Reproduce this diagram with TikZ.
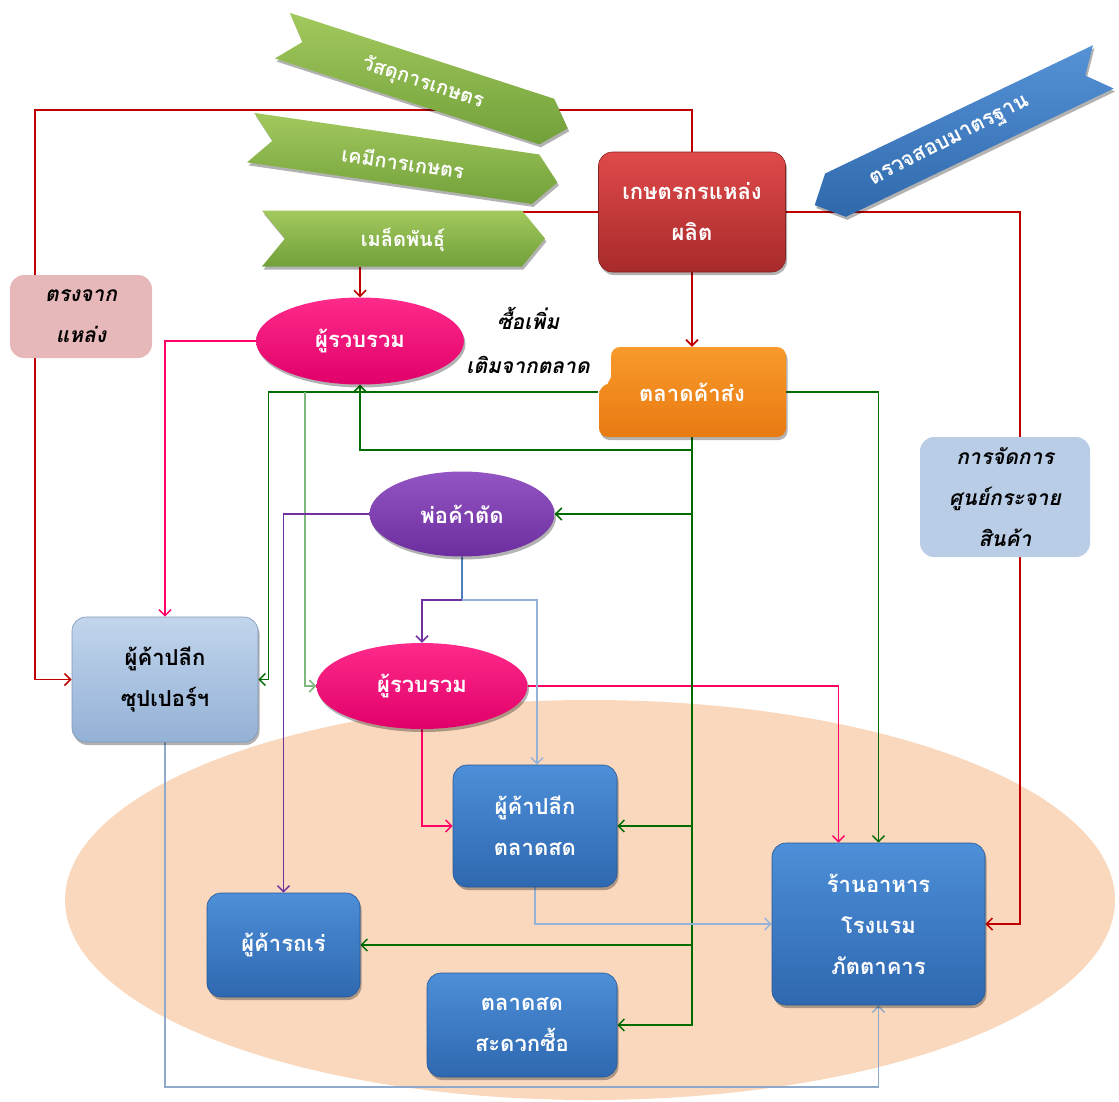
\documentclass[tikz,border=0pt]{standalone}
\usepackage{fontspec}
\newfontfamily\thaifont[Script=Thai]{Loma}
\usetikzlibrary{arrows.meta,shadows,shapes.geometric,calc}
\pgfdeclarelayer{backdrop}
\pgfdeclarelayer{links}
\pgfsetlayers{backdrop,links,main}

% connector colours
\definecolor{linkred}{HTML}{C00000}
\definecolor{linkpink}{HTML}{FF0066}
\definecolor{linkgreen}{HTML}{006B00}
\definecolor{linklightgreen}{HTML}{7DB87D}
\definecolor{linkpurple}{HTML}{7030A0}
\definecolor{linkblue}{HTML}{4F81BD}
\definecolor{linkpale}{HTML}{95B3D7}
\definecolor{linksteel}{HTML}{8EA9C9}
% fills
\definecolor{peach}{HTML}{F9D8BD}
\definecolor{redT}{HTML}{E04A4A}
\definecolor{redB}{HTML}{A82A2A}
\definecolor{orangeT}{HTML}{F89A2C}
\definecolor{orangeB}{HTML}{E87A12}
\definecolor{pinkT}{HTML}{FF2A8A}
\definecolor{pinkB}{HTML}{E0006A}
\definecolor{purpleT}{HTML}{9455C4}
\definecolor{purpleB}{HTML}{6C2E9E}
\definecolor{blueT}{HTML}{4D8FD8}
\definecolor{blueB}{HTML}{2E68B0}
\definecolor{paleT}{HTML}{C2D5EC}
\definecolor{paleB}{HTML}{93B1D6}
\definecolor{greenT}{HTML}{A2C95E}
\definecolor{greenB}{HTML}{72A03A}
\definecolor{ribbonT}{HTML}{5592D6}
\definecolor{ribbonB}{HTML}{2F69AC}
\definecolor{rosebox}{HTML}{E6B8B9}
\definecolor{skybox}{HTML}{B9CDE6}

\tikzset{
  thaitext/.style={font=\thaifont\bfseries\fontsize{22}{41}\selectfont, align=center, inner sep=0pt},
  notetext/.style={font=\thaifont\bfseries\itshape\fontsize{21}{41}\selectfont, align=center, inner sep=0pt},
  softshadow/.style={drop shadow={shadow xshift=1.5pt, shadow yshift=-3pt, fill=black, opacity=.3}},
  card/.style={thaitext, rectangle, rounded corners=14pt, softshadow},
  bluecard/.style={card, text=white, top color=blueT, bottom color=blueB, draw=blueB!85!black, line width=.6pt},
  oval/.style={thaitext, ellipse, softshadow, text=white},
  notecard/.style={notetext, rectangle, rounded corners=14pt, text=black},
  ribtext/.style={font=\thaifont\bfseries\fontsize{20}{22}\selectfont, text=white, inner sep=0pt},
  wire/.style={line width=1.5pt, -{Straight Barb[length=6pt,width=12pt]}},
  plainwire/.style={line width=1.5pt},
}

\begin{document}
\begin{tikzpicture}[x=1pt,y=-1pt]
\useasboundingbox (0,0) rectangle (1119,1101);

% large peach area behind the retail outlets
\begin{pgfonlayer}{backdrop}
  \fill[peach] (590,900) ellipse [x radius=525, y radius=200];
\end{pgfonlayer}

% ---------- input ribbons ----------
\begin{scope}[shift={(425,82)}, rotate=-18]
  \path[top color=greenT, bottom color=greenB, softshadow]
    (-150,-24) -- (128,-24) -- (150,0) -- (128,24) -- (-150,24) -- (-129,0) -- cycle;
\end{scope}
\node[ribtext, rotate=-18] (matl) at (423,83) {วัสดุการเกษตร};

\begin{scope}[shift={(404,160)}, rotate=-8.3]
  \path[top color=greenT, bottom color=greenB, softshadow]
    (-155,-25) -- (133,-25) -- (155,0) -- (133,25) -- (-155,25) -- (-133,0) -- cycle;
\end{scope}
\node[ribtext, rotate=-8.3] (chem) at (403,162) {เคมีการเกษตร};

\begin{scope}[shift={(403.5,238.5)}]
  \path[top color=greenT, bottom color=greenB, softshadow]
    (-141.5,-28) -- (118.5,-28) -- (141.5,0) -- (118.5,28) -- (-141.5,28) -- (-118.5,0) -- cycle;
\end{scope}
\node[ribtext] (seed) at (403,240) {เมล็ดพันธุ์};

\begin{scope}[shift={(959,136)}, rotate=25.6]
  \path[top color=ribbonT, bottom color=ribbonB, softshadow]
    (-160,0) -- (-137,-24) -- (160,-24) -- (140,0) -- (160,24) -- (-137,24) -- cycle;
\end{scope}
\node[ribtext, font=\thaifont\bfseries\fontsize{21}{22}\selectfont, rotate=27] (check) at (950,142) {ตรวจสอบมาตรฐาน};

% ---------- main nodes ----------
\node[card, text=white, top color=redT, bottom color=redB, draw=redB!80!black, line width=.6pt,
      minimum width=187pt, minimum height=120pt] (farmer) at (692,212) {เกษตรกรแหล่ง\\ผลิต};

% wholesale market body with its notched upper-left corner
\path[top color=orangeT, bottom color=orangeB, softshadow, rounded corners=9pt]
  (611,347) -- (786,347) -- (786,437) -- (599,437) -- (599,386)
  .. controls (607,384) and (611,378) .. (611,368) -- cycle;
\node[thaitext, text=white, minimum width=187pt, minimum height=90pt] (wholesale) at (692,392) {ตลาดค้าส่ง};

\node[notecard, fill=rosebox, minimum width=142pt, minimum height=83pt] (direct) at (81,316.5) {ตรงจาก\\แหล่ง};
\node[notecard, fill=skybox, minimum width=170pt, minimum height=120pt] (dist) at (1005,497) {การจัดการ\\ศูนย์กระจาย\\สินค้า};

\node[oval, top color=pinkT, bottom color=pinkB, minimum width=208pt, minimum height=87pt] (coll1) at (360,341) {ผู้รวบรวม};
\node[notetext, text=black, font=\thaifont\bfseries\itshape\fontsize{21}{44}\selectfont] (buy) at (528,340) {ซื้อเพิ่ม\\เติมจากตลาด};
\node[oval, top color=purpleT, bottom color=purpleB, minimum width=185pt, minimum height=85pt] (cutter) at (462,514) {พ่อค้าตัด};
\node[oval, top color=pinkT, bottom color=pinkB, minimum width=211pt, minimum height=86pt] (coll2) at (422,686) {ผู้รวบรวม};

\node[card, text=black, top color=paleT, bottom color=paleB, draw=paleB!85!black, line width=.6pt,
      minimum width=186pt, minimum height=125pt] (super) at (165,679.5) {ผู้ค้าปลีก\\ซุปเปอร์ฯ};

\node[bluecard, minimum width=164pt, minimum height=122pt] (fresh) at (535,826) {ผู้ค้าปลีก\\ตลาดสด};
\node[bluecard, minimum width=213pt, minimum height=162pt] (rest) at (878.5,924) {ร้านอาหาร\\โรงแรม\\ภัตตาคาร};
\node[bluecard, minimum width=153pt, minimum height=104pt] (cart) at (283.5,945) {ผู้ค้ารถเร่};
\node[bluecard, minimum width=190pt, minimum height=104pt] (conv) at (522,1025) {ตลาดสด\\สะดวกซื้อ};

% ---------- connectors ----------
\coordinate (seedlead) at (515,212);
\coordinate (seedbot) at (360,267);
\begin{pgfonlayer}{links}
  % red: from the producing farmers
  \draw[wire, linkred, line width=1.7pt] (farmer.north) |- (35,110) |- (super.west);
  \draw[wire, linkred, line width=1.7pt] (farmer.east) -| ($(rest.east)+(35,0)$) -- (rest.east);
  \draw[plainwire, linkred, line width=1.7pt] (seedlead) -- (farmer.west);
  \draw[wire, linkred, line width=1.7pt] (farmer.south) -- (wholesale.north);
  \draw[wire, linkred] (seedbot) -- (coll1.north);

  % pink: from the collectors
  \draw[wire, linkpink] (coll1.west) -| (super.north);
  \draw[wire, linkpink] (coll2.east) -| ($(rest.north)+(-40,0)$);
  \draw[wire, linkpink] (coll2.south) |- (fresh.west);

  % green: from the wholesale market
  \draw[wire, linkgreen] (wholesale.west) -| ($(super.east)+(10,0)$) -- (super.east);
  \draw[wire, linklightgreen] (wholesale.west -| 305,0) |- (coll2.west);
  \draw[wire, linkgreen] (wholesale.south) |- (conv.east);
  \draw[wire, linkgreen] (wholesale.south |- 0,450) -| (coll1.south);
  \draw[wire, linkgreen] (cutter.east -| wholesale.south) -- (cutter.east);
  \draw[wire, linkgreen] (fresh.east -| wholesale.south) -- (fresh.east);
  \draw[wire, linkgreen] (cart.east -| wholesale.south) -- (cart.east);
  \draw[wire, linkgreen] (wholesale.east) -| (rest.north);

  % purple and blue: from the middlemen
  \draw[wire, linkpurple] (cutter.west) -| (cart.north);
  \draw[plainwire, linkblue] (cutter.south) -- (cutter.south |- 0,600);
  \draw[wire, linkpurple] (cutter.south |- 0,600) -| (coll2.north);
  \draw[wire, linkpale] (cutter.south |- 0,600) -| ($(fresh.north)+(2,0)$);
  \draw[wire, linkpale] (fresh.south) |- (rest.west);
  \draw[wire, linksteel] (super.south) |- (rest.south |- 0,1087) -- (rest.south);
\end{pgfonlayer}
\end{tikzpicture}
\end{document}
